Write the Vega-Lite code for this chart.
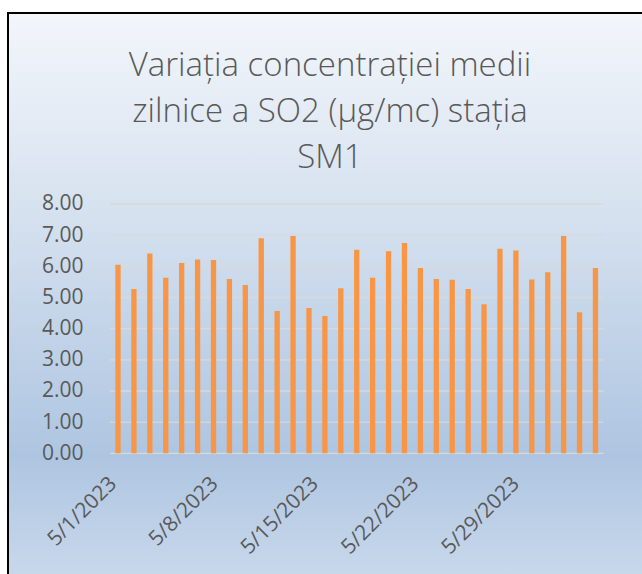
{
  "$schema": "https://vega.github.io/schema/vega-lite/v6.json",
  "width": 634,
  "height": 561,
  "autosize": {"type": "none"},
  "padding": {"left": 8, "top": 13, "right": 0, "bottom": 0},
  "background": "white",
  "config": {
    "font": "Open Sans",
    "view": {
      "fill": {"gradient": "linear", "x1": 0, "y1": 0, "x2": 0, "y2": 1,
        "stops": [
          {"offset": 0, "color": "#f3f6fb"},
          {"offset": 0.33, "color": "#d8e3f0"},
          {"offset": 0.79, "color": "#aec5e1"},
          {"offset": 1, "color": "#c8d8eb"}
        ]},
      "stroke": "#000000",
      "strokeWidth": 2,
      "strokeDash": [634, 1195, 561]
    }
  },
  "title": {
    "text": ["Variația concentrației medii", "zilnice a SO2 (µg/mc) stația", "SM1"],
    "anchor": "middle",
    "frame": "group",
    "font": "Open Sans",
    "fontSize": 33,
    "fontWeight": 300,
    "color": "#595959",
    "lineHeight": 46,
    "offset": -162,
    "dx": 5
  },
  "layer": [
    {
      "data": {"values": [
        {"value": 0}, {"value": 1}, {"value": 2}, {"value": 3}, {"value": 4},
        {"value": 5}, {"value": 6}, {"value": 7}, {"value": 8}
      ]},
      "mark": {"type": "rule", "color": "#d9d9d9", "strokeWidth": 1.3},
      "encoding": {
        "y": {"field": "value", "type": "quantitative"},
        "x": {"datum": {"year": 2023, "month": 4, "date": 30, "hours": 12, "utc": true}, "type": "temporal"},
        "x2": {"datum": {"year": 2023, "month": 5, "date": 31, "hours": 12, "utc": true}}
      }
    },
    {
      "data": {"values": [
        {"date": "2023-05-01", "value": 6.05},
        {"date": "2023-05-02", "value": 5.27},
        {"date": "2023-05-03", "value": 6.41},
        {"date": "2023-05-04", "value": 5.63},
        {"date": "2023-05-05", "value": 6.11},
        {"date": "2023-05-06", "value": 6.22},
        {"date": "2023-05-07", "value": 6.20},
        {"date": "2023-05-08", "value": 5.59},
        {"date": "2023-05-09", "value": 5.40},
        {"date": "2023-05-10", "value": 6.90},
        {"date": "2023-05-11", "value": 4.57},
        {"date": "2023-05-12", "value": 6.97},
        {"date": "2023-05-13", "value": 4.66},
        {"date": "2023-05-14", "value": 4.41},
        {"date": "2023-05-15", "value": 5.30},
        {"date": "2023-05-16", "value": 6.53},
        {"date": "2023-05-17", "value": 5.63},
        {"date": "2023-05-18", "value": 6.48},
        {"date": "2023-05-19", "value": 6.75},
        {"date": "2023-05-20", "value": 5.95},
        {"date": "2023-05-21", "value": 5.59},
        {"date": "2023-05-22", "value": 5.57},
        {"date": "2023-05-23", "value": 5.27},
        {"date": "2023-05-24", "value": 4.78},
        {"date": "2023-05-25", "value": 6.56},
        {"date": "2023-05-26", "value": 6.51},
        {"date": "2023-05-27", "value": 5.58},
        {"date": "2023-05-28", "value": 5.81},
        {"date": "2023-05-29", "value": 6.97},
        {"date": "2023-05-30", "value": 4.53},
        {"date": "2023-05-31", "value": 5.95}
      ]},
      "mark": {"type": "bar", "color": "#f79646", "size": 5.3},
      "encoding": {
        "x": {
          "field": "date", "type": "temporal",
          "scale": {"type": "utc", "domain": [
            {"year": 2023, "month": 4, "date": 24, "hours": 9, "minutes": 39, "utc": true},
            {"year": 2023, "month": 6, "date": 2, "hours": 14, "minutes": 38, "utc": true}
          ]},
          "axis": {
            "values": [
              {"year": 2023, "month": 5, "date": 1, "utc": true},
              {"year": 2023, "month": 5, "date": 8, "utc": true},
              {"year": 2023, "month": 5, "date": 15, "utc": true},
              {"year": 2023, "month": 5, "date": 22, "utc": true},
              {"year": 2023, "month": 5, "date": 29, "utc": true}
            ],
            "format": "%-m/%-d/%Y",
            "labelAngle": -45,
            "labelAlign": "right",
            "labelBaseline": "middle",
            "labelPadding": 27,
            "labelOffset": {"condition": [
              {"test": "utcdate(datum.value) == 8", "value": -15},
              {"test": "utcdate(datum.value) == 15", "value": -26},
              {"test": "utcdate(datum.value) == 22", "value": -37},
              {"test": "utcdate(datum.value) == 29", "value": -48}
            ], "value": -5},
            "ticks": false,
            "tickSize": 0,
            "domain": false,
            "grid": false,
            "title": null,
            "offset": -120.7,
            "labelFont": "Open Sans",
            "labelFontSize": 21,
            "labelColor": "#595959",
            "labelOverlap": false,
            "labelFlush": false,
            "labelBound": false
          }
        },
        "y": {
          "field": "value", "type": "quantitative",
          "scale": {"domain": [-3.873, 14.129], "nice": false, "zero": false},
          "axis": {
            "values": [0, 1, 2, 3, 4, 5, 6, 7, 8],
            "format": ".2f",
            "ticks": false,
            "tickSize": 0,
            "domain": false,
            "grid": false,
            "title": null,
            "labelPadding": 0,
            "offset": -75,
            "labelFont": "Open Sans",
            "labelFontSize": 21,
            "labelColor": "#595959",
            "labelOverlap": false,
            "labelFlush": false,
            "labelBound": false
          }
        },
        "y2": {"datum": 0}
      }
    }
  ]
}
